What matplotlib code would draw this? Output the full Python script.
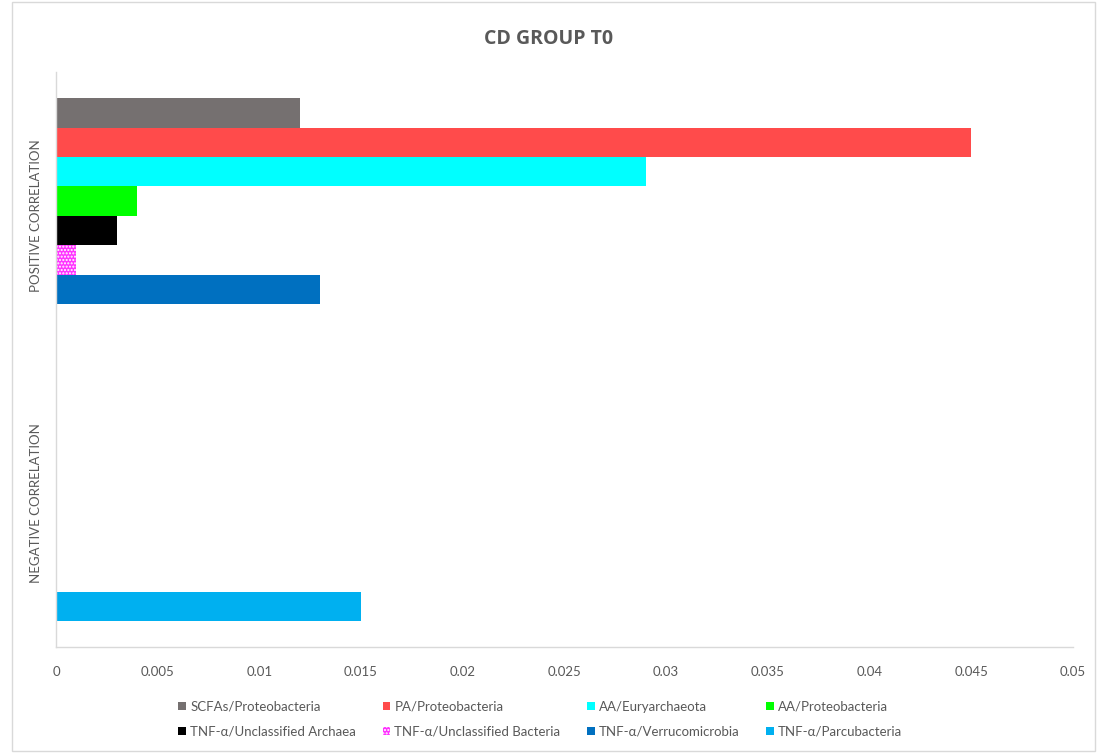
import numpy as np
import matplotlib
matplotlib.use('Agg')
import matplotlib.pyplot as plt
from matplotlib.patches import Patch, Rectangle

plt.rcParams['font.family'] = ['Lato', 'DejaVu Sans']

# categories bottom to top
categories = ['NEGATIVE CORRELATION', 'POSITIVE CORRELATION']
series = ['SCFAs/Proteobacteria', 'PA/Proteobacteria', 'AA/Euryarchaeota',
          'AA/Proteobacteria', 'TNF-\u03b1/Unclassified Archaea',
          'TNF-\u03b1/Unclassified Bacteria', 'TNF-\u03b1/Verrucomicrobia',
          'TNF-\u03b1/Parcubacteria']
negative_vals = [0, 0, 0, 0, 0, 0, 0, 0.015]
positive_vals = [0.012, 0.045, 0.029, 0.004, 0.003, 0.001, 0.013, 0]
colors = ['#757070', '#FF4B4B', '#00FFFF', '#00FF00', '#000000',
          '#FF33FF', '#0070C0', '#00B0F0']
xticks = [0, 0.005, 0.01, 0.015, 0.02, 0.025, 0.03, 0.035, 0.04, 0.045, 0.05]
xticklabels = ['0', '0.005', '0.01', '0.015', '0.02', '0.025', '0.03',
               '0.035', '0.04', '0.045', '0.05']

txt = '#595959'
fig = plt.figure(figsize=(10.98, 7.53), dpi=100)
ax = fig.add_axes([0.051, 0.141, 0.926, 0.763])

n = len(series)
w = 0.82 / n
ycent = np.arange(len(categories))
handles = []
for i in range(n):
    vals = [negative_vals[i], positive_vals[i]]
    ypos = ycent + (n / 2 - 0.5 - i) * w
    hatch = '.....' if i == 5 else None
    ax.barh(ypos, vals, height=w, color=colors[i], hatch=hatch,
            edgecolor='white' if hatch else colors[i], linewidth=0)
    handles.append(Patch(facecolor=colors[i], hatch=hatch,
                         edgecolor='white' if hatch else colors[i], linewidth=0,
                         label=series[i]))

ax.set_xlim(0, 0.05)
ax.set_ylim(-0.5, 1.5)
ax.set_xticks(xticks)
ax.set_xticklabels(xticklabels)
ax.set_yticks(ycent)
ax.set_yticklabels(categories, rotation=90, va='center')
ax.tick_params(axis='both', length=0, colors=txt, labelsize=9.5)
ax.tick_params(axis='x', pad=14)
ax.tick_params(axis='y', pad=10)
for s in ['top', 'right']:
    ax.spines[s].set_visible(False)
for s in ['left', 'bottom']:
    ax.spines[s].set_color('#D9D9D9')
    ax.spines[s].set_linewidth(1)

fig.suptitle('CD GROUP T0', x=0.5, y=0.962, fontsize=14, fontweight='bold',
             color=txt, family=['Open Sans', 'DejaVu Sans'])

order = [0, 4, 1, 5, 2, 6, 3, 7]
fig.legend([handles[k] for k in order], [series[k] for k in order],
           loc='center', bbox_to_anchor=(0.492, 0.045), ncol=4, frameon=False,
           fontsize=9.5, labelcolor=txt, handlelength=0.6, handleheight=0.6,
           handletextpad=0.3, columnspacing=2.0, labelspacing=1.0)

# chart frame
fig.patches.append(Rectangle((0.011, 0.003), 0.986, 0.994, transform=fig.transFigure,
                             fill=False, edgecolor='#D9D9D9', linewidth=1))

fig.savefig('out.png', dpi=100)
